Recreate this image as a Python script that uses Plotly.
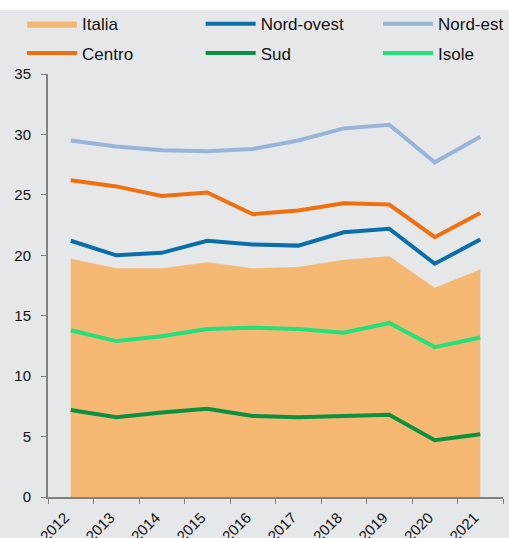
import plotly.graph_objects as go

years = ["2012", "2013", "2014", "2015", "2016", "2017", "2018", "2019", "2020", "2021"]
italia = [19.7, 18.9, 18.9, 19.4, 18.9, 19.0, 19.6, 19.9, 17.3, 18.8]
nord_ovest = [21.2, 20.0, 20.2, 21.2, 20.9, 20.8, 21.9, 22.2, 19.3, 21.3]
nord_est = [29.5, 29.0, 28.7, 28.6, 28.8, 29.5, 30.5, 30.8, 27.7, 29.8]
centro = [26.2, 25.7, 24.9, 25.2, 23.4, 23.7, 24.3, 24.2, 21.5, 23.5]
sud = [7.2, 6.6, 7.0, 7.3, 6.7, 6.6, 6.7, 6.8, 4.7, 5.2]
isole = [13.8, 12.9, 13.3, 13.9, 14.0, 13.9, 13.6, 14.4, 12.4, 13.2]

BG = "#e6e7e9"
fig = go.Figure()
fig.add_trace(go.Scatter(x=years, y=italia, name="Italia", mode="lines", fill="tozeroy",
                         fillcolor="#f5b872", line=dict(color="#f5b872", width=0.5),
                         legend="legend", legendgroup="a"))
fig.add_trace(go.Scatter(x=years, y=nord_ovest, name="Nord-ovest", mode="lines",
                         line=dict(color="#0a6fa8", width=4), legend="legend2", legendgroup="b"))
fig.add_trace(go.Scatter(x=years, y=nord_est, name="Nord-est", mode="lines",
                         line=dict(color="#98b4d9", width=4), legend="legend3", legendgroup="c"))
fig.add_trace(go.Scatter(x=years, y=centro, name="Centro", mode="lines",
                         line=dict(color="#ee700f", width=4), legend="legend", legendgroup="d"))
fig.add_trace(go.Scatter(x=years, y=sud, name="Sud", mode="lines",
                         line=dict(color="#0a9140", width=4), legend="legend2", legendgroup="e"))
fig.add_trace(go.Scatter(x=years, y=isole, name="Isole", mode="lines",
                         line=dict(color="#22e07a", width=4), legend="legend3", legendgroup="f"))

fig.add_shape(type="rect", xref="paper", yref="paper", x0=-0.2, x1=1.2, y0=1.1513, y1=1.4,
              fillcolor="white", line=dict(width=0), layer="below")

leg_common = dict(orientation="v", xanchor="left", yanchor="top", y=1.1602,
                  bgcolor="rgba(0,0,0,0)", font=dict(size=17), traceorder="grouped",
                  tracegroupgap=4, itemwidth=50)

fig.update_layout(
    width=509, height=538,
    margin=dict(l=48, r=0, t=74, b=41),
    paper_bgcolor=BG, plot_bgcolor=BG,
    font=dict(family="Liberation Sans, Arial, sans-serif", color="#111111", size=14),
    showlegend=True,
    legend=dict(x=-0.057, **leg_common),
    legend2=dict(x=0.3355, **leg_common),
    legend3=dict(x=0.726, **leg_common),
    xaxis=dict(type="category", range=[-0.5, 9.5], tickson="boundaries", ticks="outside",
               ticklen=5, tickcolor="#808080", showline=True, linecolor="#808080",
               linewidth=2, showgrid=False, tickangle=-45, tickfont=dict(size=15),
               ticklabelshift=-6, ticklabelstandoff=4, zeroline=False, automargin=False),
    yaxis=dict(range=[0, 35], dtick=5, ticks="outside", ticklen=5, tickcolor="#808080",
               showline=True, linecolor="#808080", linewidth=2, showgrid=False,
               zeroline=False, tickfont=dict(size=15), ticklabelstandoff=7,
               automargin=False),
)
fig.write_html("out.html", post_script="document.body.style.margin='0';",
               config={"displayModeBar": False})
